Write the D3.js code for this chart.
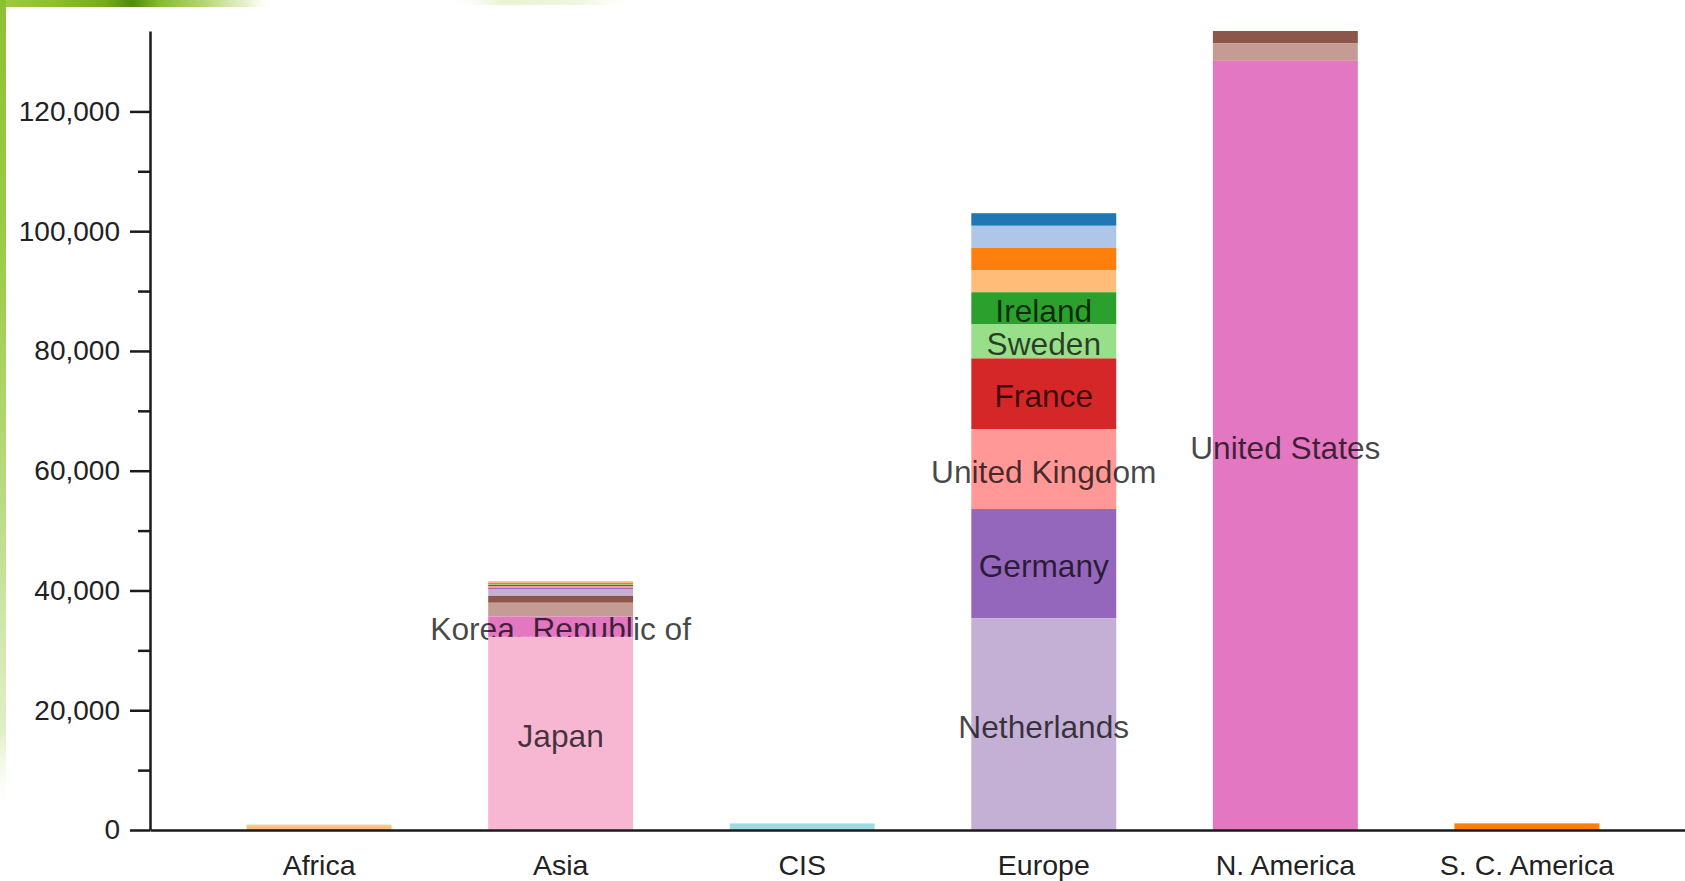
<!DOCTYPE html>
<html>
<head>
<meta charset="utf-8">
<script src="https://cdn.jsdelivr.net/npm/d3@7"></script>
<style>
  html, body { margin: 0; padding: 0; background: #fff; }
  svg { display: block; }
  text { font-family: "Liberation Sans", Arial, sans-serif; }
</style>
</head>
<body>
<svg id="chart" width="1685" height="881"></svg>
<script>
// ---------- data (stacks listed bottom → top) ----------
const regions = ["Africa", "Asia", "CIS", "Europe", "N. America", "S. C. America"];

const africaCountries = ["South Africa", "Egypt"];
const africaValues    = [650, 250];
const africaColors    = ["#ffbb78", "#dbdb8d"];

const asiaCountries = ["Japan", "Korea, Republic of", "China", "Singapore", "India", "Hong Kong",
                       "Taiwan", "Malaysia", "Thailand", "Indonesia", "Philippines", "Viet Nam",
                       "Israel", "United Arab Emirates"];
const asiaValues    = [32250, 3400, 2300, 1150, 1150, 200, 300, 180, 150, 120, 100, 80, 70, 50];
const asiaColors    = ["#f7b6d2", "#e377c2", "#c49c94", "#8c564b", "#c5b0d5", "#9467bd", "#ff9896",
                       "#d62728", "#98df8a", "#2ca02c", "#ffbb78", "#ff7f0e", "#aec7e8", "#1f77b4"];

const cisCountries = ["Russian Federation"];
const cisValues    = [1100];
const cisColors    = ["#9edae5"];

const europeCountries = ["Netherlands", "Germany", "United Kingdom", "France", "Sweden", "Ireland",
                         "Belgium", "Italy", "Spain", "Switzerland"];
const europeValues    = [35350, 18250, 13350, 11800, 5750, 5300, 3700, 3700, 3700, 2100];
const europeColors    = ["#c5b0d5", "#9467bd", "#ff9896", "#d62728", "#98df8a", "#2ca02c",
                         "#ffbb78", "#ff7f0e", "#aec7e8", "#1f77b4"];

const naCountries = ["United States", "Canada", "Mexico"];
const naValues    = [128450, 2900, 2080];
const naColors    = ["#e377c2", "#c49c94", "#8c564b"];

const scaCountries = ["Brazil", "Argentina"];
const scaValues    = [1000, 150];
const scaColors    = ["#ff7f0e", "#f4a460"];

const majorTicks = [0, 20000, 40000, 60000, 80000, 100000, 120000];
const minorTicks = [10000, 30000, 50000, 70000, 90000, 110000];
const labelShare = 0.045;   // label a segment when it is more than this share of its region
const labelMin   = 3000;    // ... and larger than this value

(function () {
// ---------- build stacks ----------
const stacks = [
  [africaCountries, africaValues, africaColors],
  [asiaCountries, asiaValues, asiaColors],
  [cisCountries, cisValues, cisColors],
  [europeCountries, europeValues, europeColors],
  [naCountries, naValues, naColors],
  [scaCountries, scaValues, scaColors]
].map(([names, vals, cols], i) => {
  let acc = 0;
  const segs = names.map((n, j) => {
    const s = { region: regions[i], country: n, value: vals[j], color: cols[j], y0: acc, y1: acc + vals[j] };
    acc += vals[j];
    return s;
  });
  return { region: regions[i], total: acc, segs };
});

const maxTotal = d3.max(stacks, s => s.total);

// ---------- layout ----------
const svg = d3.select("#chart");
const W = 1685, H = 881;
const mLeft = 150, mBottom = 830, mTop = 31, mRight = 1696;

// background slide decoration
const defs = svg.append("defs");
const gTop = defs.append("linearGradient").attr("id", "gTop");
[[0, "#a2ca44", 1], [0.2, "#8cc024", 1], [0.38, "#75ac16", 1], [0.48, "#4f8c0c", 1],
 [0.58, "#86bc2a", 1], [0.75, "#b8d874", 1], [0.9, "#e0efc4", 0.8], [1, "#ffffff", 0]]
  .forEach(([o, c, a]) => gTop.append("stop").attr("offset", o).attr("stop-color", c).attr("stop-opacity", a));
const gTop2 = defs.append("linearGradient").attr("id", "gTop2");
[[0, "#ffffff", 0], [0.3, "#d8ebb4", 0.6], [0.7, "#e4f1cc", 0.6], [1, "#ffffff", 0]]
  .forEach(([o, c, a]) => gTop2.append("stop").attr("offset", o).attr("stop-color", c).attr("stop-opacity", a));
const gLeft = defs.append("linearGradient").attr("id", "gLeft").attr("x1", 0).attr("y1", 0).attr("x2", 0).attr("y2", 1);
[[0, "#8cc232", 1], [0.3, "#9ccb48", 1], [0.6, "#bcdc86", 1], [0.85, "#d8ebb8", 0.8], [0.95, "#ffffff", 0]]
  .forEach(([o, c, a]) => gLeft.append("stop").attr("offset", o).attr("stop-color", c).attr("stop-opacity", a));

svg.append("rect").attr("x", 0).attr("y", 0).attr("width", W).attr("height", H).attr("fill", "#fff");
svg.append("rect").attr("x", 0).attr("y", 0).attr("width", 275).attr("height", 7).attr("fill", "url(#gTop)");
svg.append("rect").attr("x", 445).attr("y", 0).attr("width", 195).attr("height", 5).attr("fill", "url(#gTop2)");
svg.append("rect").attr("x", 0).attr("y", 0).attr("width", 6).attr("height", 860).attr("fill", "url(#gLeft)");

// scales
const x = d3.scaleBand().domain(regions).range([mLeft, mRight]).paddingInner(0.4).paddingOuter(0.4);
const y = d3.scaleLinear().domain([0, maxTotal]).range([mBottom, mTop]);

// bars (drawn top segment first so lower segments overlap labels above them)
const barG = svg.append("g");
stacks.forEach(st => {
  const g = barG.append("g");
  st.segs.slice().reverse().forEach(s => {
    g.append("rect")
      .attr("x", x(s.region))
      .attr("width", x.bandwidth())
      .attr("y", y(s.y1))
      .attr("height", y(s.y0) - y(s.y1))
      .attr("fill", s.color);
    if (s.value / st.total > labelShare && s.value > labelMin) {
      g.append("text")
        .attr("x", x(s.region) + x.bandwidth() / 2)
        .attr("y", (y(s.y0) + y(s.y1)) / 2)
        .attr("dy", "0.43em")
        .attr("text-anchor", "middle")
        .attr("font-size", "31.7px")
        .attr("fill", "#000")
        .attr("fill-opacity", 0.72)
        .text(s.country);
    }
  });
});

// y axis
const yAxisMinor = svg.append("g").attr("transform", `translate(${mLeft},0)`)
  .call(d3.axisLeft(y).tickValues(minorTicks).tickSize(12).tickSizeOuter(0).tickFormat(""));
yAxisMinor.select(".domain").remove();

const yAxis = svg.append("g").attr("transform", `translate(${mLeft},0)`)
  .call(d3.axisLeft(y).tickValues(majorTicks).tickSize(20).tickSizeOuter(0).tickPadding(10).tickFormat(d3.format(",")));
yAxis.selectAll("text").attr("font-size", "28px").attr("fill", "#222").attr("font-family", "Liberation Sans, Arial, sans-serif");

[yAxis, yAxisMinor].forEach(a => a.selectAll("line").attr("stroke", "#1a1a1a").attr("stroke-width", 2.5));
yAxis.select(".domain").attr("stroke", "#1a1a1a").attr("stroke-width", 2.5);

// x axis
const xAxis = svg.append("g").attr("transform", `translate(0,${mBottom})`)
  .call(d3.axisBottom(x).tickSize(0).tickPadding(25));
xAxis.select(".domain").attr("stroke", "#1a1a1a").attr("stroke-width", 2.5);
xAxis.selectAll("text").attr("font-size", "28.5px").attr("fill", "#222").attr("font-family", "Liberation Sans, Arial, sans-serif");
})();
</script>
</body>
</html>
